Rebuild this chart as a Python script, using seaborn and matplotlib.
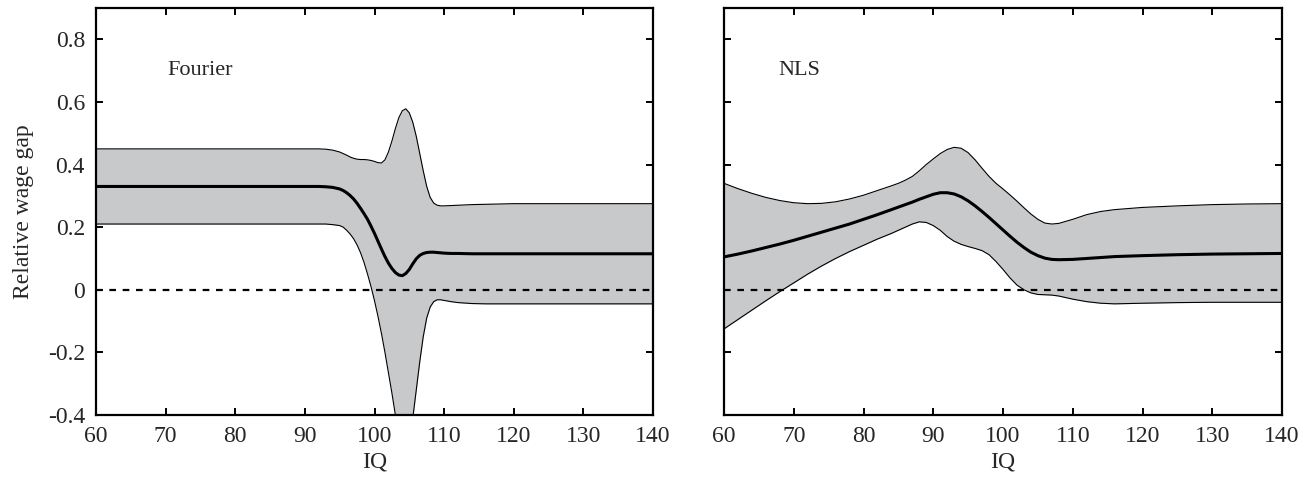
import numpy as np
import pandas as pd
import seaborn as sns
import matplotlib.pyplot as plt

# Fourier panel
fourier_iq = [60, 70, 80, 90, 92, 93, 94,
              95, 95.5, 96, 96.5, 97, 97.5, 98, 98.5, 99, 99.5, 100, 100.5,
              101, 101.5, 102, 102.5, 103, 103.5, 104, 104.5, 105, 105.5,
              106, 106.5, 107, 107.5, 108, 108.5, 109, 109.5, 110,
              111, 112, 114, 116, 120, 130, 140]
fourier_mean = [0.33, 0.33, 0.33, 0.33, 0.33, 0.329, 0.327,
                0.322, 0.317, 0.31, 0.301, 0.29, 0.276, 0.26, 0.243, 0.225, 0.203, 0.18, 0.155,
                0.13, 0.106, 0.085, 0.068, 0.055, 0.047, 0.045, 0.052, 0.065, 0.083,
                0.099, 0.11, 0.116, 0.119, 0.12, 0.12, 0.119, 0.118, 0.117,
                0.116, 0.116, 0.115, 0.115, 0.115, 0.115, 0.115]
fourier_upper = [0.45, 0.45, 0.45, 0.45, 0.45, 0.449, 0.446,
                 0.44, 0.435, 0.43, 0.424, 0.42, 0.417, 0.416, 0.416, 0.415, 0.413, 0.41, 0.406,
                 0.405, 0.415, 0.44, 0.475, 0.515, 0.55, 0.572, 0.578, 0.565, 0.535,
                 0.49, 0.435, 0.38, 0.33, 0.295, 0.277, 0.27, 0.268, 0.268,
                 0.269, 0.27, 0.272, 0.273, 0.275, 0.275, 0.275]
fourier_lower = [0.21, 0.21, 0.21, 0.21, 0.21, 0.21, 0.208,
                 0.205, 0.2, 0.19, 0.178, 0.163, 0.143, 0.118, 0.087, 0.05, 0.01, -0.035, -0.085,
                 -0.14, -0.2, -0.265, -0.33, -0.4, -0.46, -0.5, -0.51, -0.48, -0.41,
                 -0.32, -0.23, -0.15, -0.09, -0.055, -0.038, -0.032, -0.032, -0.034,
                 -0.038, -0.041, -0.044, -0.045, -0.045, -0.045, -0.045]

# NLS panel
nls_iq = [60, 62, 64, 66, 68, 70, 72, 74, 76, 78, 80, 82, 84, 85, 86, 87, 88, 89,
          90, 91, 92, 93, 94, 95, 96, 97, 98, 99, 100, 101, 102, 103, 104, 105,
          106, 107, 108, 110, 112, 114, 116, 120, 125, 130, 135, 140]
nls_mean = [0.105, 0.114, 0.124, 0.135, 0.146, 0.158, 0.171, 0.184, 0.197, 0.21,
            0.225, 0.24, 0.256, 0.264, 0.272, 0.28, 0.289, 0.297, 0.305, 0.31,
            0.31, 0.306, 0.297, 0.284, 0.268, 0.25, 0.231, 0.211, 0.191, 0.171,
            0.152, 0.135, 0.12, 0.109, 0.101, 0.097, 0.096, 0.097, 0.10, 0.103,
            0.106, 0.109, 0.112, 0.114, 0.115, 0.116]
nls_upper = [0.34, 0.323, 0.308, 0.295, 0.285, 0.278, 0.275, 0.276, 0.281, 0.29,
             0.302, 0.317, 0.332, 0.34, 0.35, 0.362, 0.38, 0.40, 0.418, 0.435,
             0.448, 0.455, 0.452, 0.438, 0.415, 0.388, 0.362, 0.34, 0.322, 0.303,
             0.283, 0.262, 0.242, 0.225, 0.213, 0.21, 0.212, 0.225, 0.24, 0.25,
             0.256, 0.263, 0.268, 0.272, 0.274, 0.275]
nls_lower = [-0.125, -0.095, -0.065, -0.035, -0.006, 0.022, 0.05, 0.076, 0.10, 0.122,
             0.142, 0.162, 0.18, 0.19, 0.20, 0.21, 0.217, 0.215, 0.205, 0.19,
             0.17, 0.155, 0.145, 0.138, 0.132, 0.125, 0.112, 0.09, 0.065, 0.038,
             0.015, 0.0, -0.01, -0.015, -0.016, -0.017, -0.02, -0.03, -0.038, -0.043,
             -0.045, -0.043, -0.041, -0.04, -0.04, -0.04]

xticks = [60, 70, 80, 90, 100, 110, 120, 130, 140]
yticks = [-0.4, -0.2, 0, 0.2, 0.4, 0.6, 0.8]
ytick_labels = ["-0.4", "-0.2", "0", "0.2", "0.4", "0.6", "0.8"]

sns.set_style("ticks")
plt.rcParams['font.family'] = ['Liberation Serif', 'DejaVu Serif']
plt.rcParams['axes.unicode_minus'] = False

fig = plt.figure(figsize=(13.16, 4.78), dpi=100)
ax1 = fig.add_axes([96 / 1316, 63 / 478, 557 / 1316, 407 / 478])
ax2 = fig.add_axes([724 / 1316, 63 / 478, 558 / 1316, 407 / 478])

panels = [
    (ax1, fourier_iq, fourier_mean, fourier_upper, fourier_lower, "Fourier", 70.3),
    (ax2, nls_iq, nls_mean, nls_upper, nls_lower, "NLS", 67.8),
]

for ax, iq, mean, upper, lower, name, tx in panels:
    df = pd.DataFrame({"iq": iq, "mean": mean, "upper": upper, "lower": lower})
    ax.fill_between(df["iq"], df["lower"], df["upper"], color="#c8c9cb", lw=0)
    sns.lineplot(data=df, x="iq", y="upper", ax=ax, color="black", lw=0.8)
    sns.lineplot(data=df, x="iq", y="lower", ax=ax, color="black", lw=0.8)
    ax.axhline(0, color="black", lw=1.6, ls=(0, (3, 3)))
    sns.lineplot(data=df, x="iq", y="mean", ax=ax, color="black", lw=2.2)
    ax.text(tx, 0.70, name, fontsize=16, va="center", ha="left")

    ax.set_xlim(60, 140)
    ax.set_ylim(-0.4, 0.9)
    ax.set_xticks(xticks)
    ax.set_yticks(yticks)
    ax.set_xlabel("IQ", fontsize=17, labelpad=3)
    ax.set_ylabel("")
    for s in ax.spines.values():
        s.set_visible(True)
        s.set_linewidth(1.6)
        s.set_color("black")
    ax.tick_params(direction="in", length=5, width=1.4, top=True, right=True,
                   labelsize=17, pad=8, color="black")

ax1.set_yticklabels(ytick_labels)
ax1.set_ylabel("Relative wage gap", fontsize=17, labelpad=10)
ax2.set_yticklabels([])

fig.savefig("out.png", dpi=100)
